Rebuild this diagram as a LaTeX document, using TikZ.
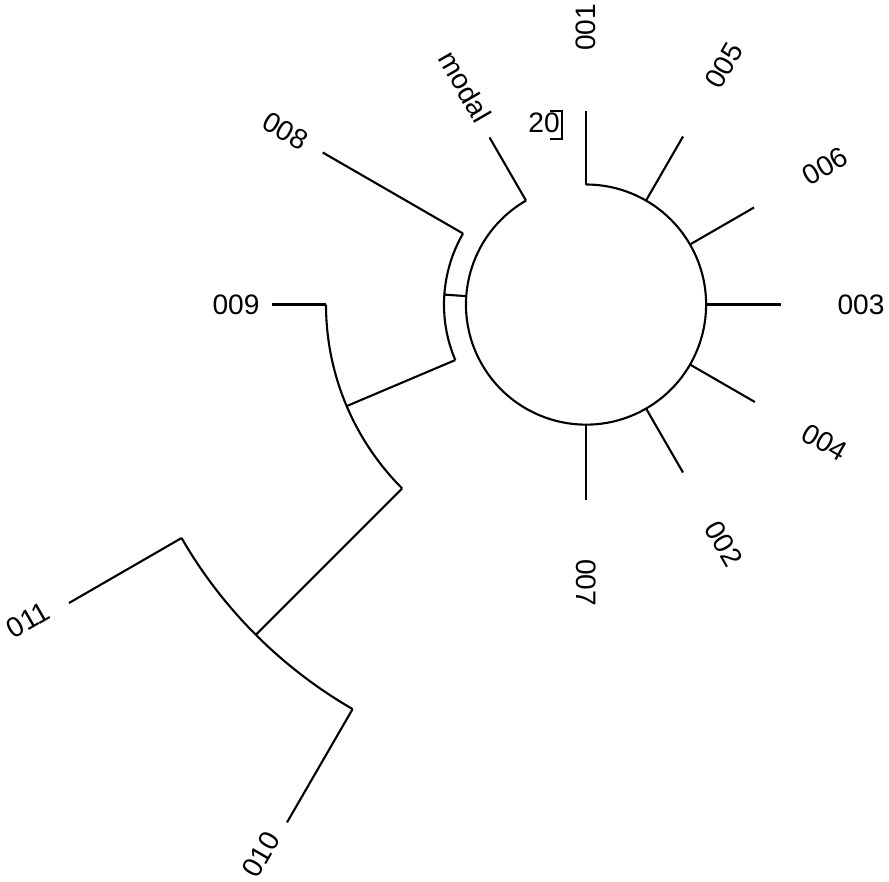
\documentclass[tikz,border=0pt]{standalone}
\usepackage{fontspec}
\setmainfont{Liberation Sans}

\tikzset{
    leaf/.style={font=\fontsize{8}{9}\selectfont, inner sep=0pt},
    branch/.style={line width=0.6pt, black}
}

\begin{document}
\begin{tikzpicture}[x=0.01cm, y=0.01cm]
    \useasboundingbox (-586,-576.5) rectangle (303,304.5);
    \coordinate (c) at (0,0);

    % inner cluster
    \draw[branch] (120:120) coordinate (bmodal) -- (120:193) coordinate (tmodal);
    \draw[branch] (90:120) coordinate (b001) -- (90:194) coordinate (t001);
    \draw[branch] (60:120) coordinate (b005) -- (60:194) coordinate (t005);
    \draw[branch] (30:120) coordinate (b006) -- (30:194) coordinate (t006);
    \draw[branch] (0:120) coordinate (b003) -- (0:195) coordinate (t003);
    \draw[branch] (-30:120) coordinate (b004) -- (-30:195) coordinate (t004);
    \draw[branch] (-60:120) coordinate (b002) -- (-60:194) coordinate (t002);
    \draw[branch] (-90:120) coordinate (b007) -- (-90:195) coordinate (t007);
    \draw[branch] (bmodal) arc[start angle=120, end angle=450, radius=1.2cm];

    % 008 joins
    \draw[branch] (176:120) coordinate (kin) -- (176:142) coordinate (kmid);
    \draw[branch] (150:142) coordinate (b008) arc[start angle=150, end angle=203, radius=1.42cm] coordinate (kmid2);
    \draw[branch] (b008) -- (150:304) coordinate (t008);

    % 009 joins
    \draw[branch] (kmid2) -- (203:260) coordinate (k009);
    \draw[branch] (180:260) coordinate (b009) arc[start angle=180, end angle=225, radius=2.6cm] coordinate (kout);
    \draw[branch] (b009) -- (180:314) coordinate (t009);

    % root with 011 and 010
    \draw[branch] (kout) -- (225:467) coordinate (kroot);
    \draw[branch] (210:467) coordinate (b011) arc[start angle=210, end angle=240, radius=4.67cm] coordinate (b010);
    \draw[branch] (b011) -- (210:597) coordinate (t011);
    \draw[branch] (b010) -- (240:598) coordinate (t010);

    % labels
    \node[leaf, rotate=-60] (lmodal) at (119:249) {modal};
    \node[leaf, rotate=90] (l001) at (90:277) {001};
    \node[leaf, rotate=60] (l005) at (60:276) {005};
    \node[leaf, rotate=30] (l006) at (30:276) {006};
    \node[leaf] (l003) at (0:275) {003};
    \node[leaf, rotate=-30] (l004) at (-30:276) {004};
    \node[leaf, rotate=-60] (l002) at (-60:276) {002};
    \node[leaf, rotate=-90] (l007) at (-90:278) {007};
    \node[leaf, rotate=-30] (l008) at (150:347) {008};
    \node[leaf] (l009) at (180:350) {009};
    \node[leaf, rotate=30] (l011) at (209.5:641) {011};
    \node[leaf, rotate=60] (l010) at (239.4:639) {010};

    % scale bar
    \node[leaf] (bar) at (-42,182) {20};
    \coordinate (bartop) at (-36,193.8);
    \coordinate (barbot) at (-36,165.2);
    \draw[branch] (bartop) -- ++(11.7,0) |- (barbot);
\end{tikzpicture}
\end{document}
